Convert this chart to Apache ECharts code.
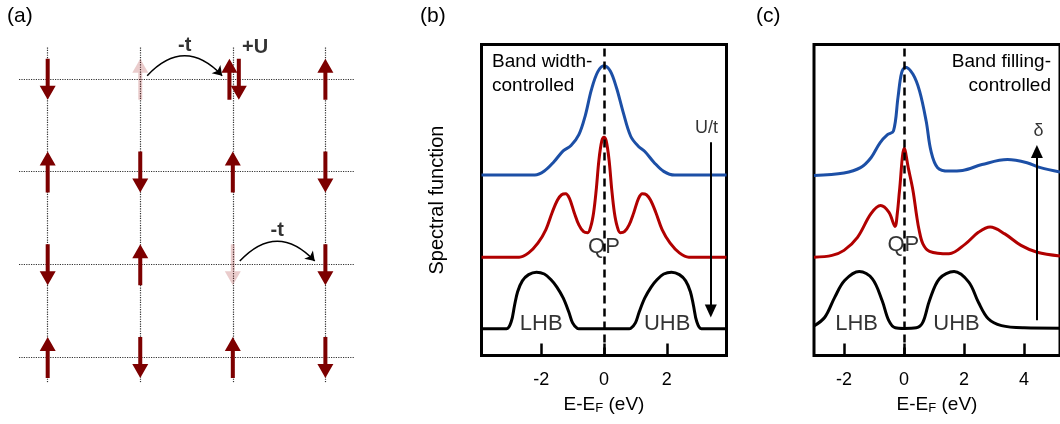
<!DOCTYPE html>
<html><head><meta charset="utf-8">
<script src="https://cdn.jsdelivr.net/npm/echarts@6/dist/echarts.min.js"></script>
<style>html,body{margin:0;padding:0;background:#fff}#c{width:1060px;height:424px}</style>
</head><body><div id="c"></div>
<script>
// ---------- Panel (a): Hubbard lattice spins (rows top->bottom, cols left->right) ----------
// 'u' up, 'd' down, '~' faded (hole left after hop), 'ud' doubly occupied
const spins = [
  ['d', 'u~', 'ud', 'u'],
  ['u', 'd',  'u',  'd'],
  ['d', 'u',  'd~', 'd'],
  ['u', 'd',  'u',  'd']
];
// hops: [fromCol, fromRow, toCol, toRow]
const hops = [[2, 1, 3, 1], [3, 3, 4, 3]];
const hopLabel = '-t';
const doubleLabel = '+U';

// ---------- Panel (b): band width-controlled, E-EF (eV) vs spectral function ----------
const bwBlue = [[-3.9,5.8],[-2.2,5.8],[-1.9,5.93],[-1.6,6.22],[-1.3,6.58],[-1.05,6.75],[-0.8,7.1],[-0.6,7.7],[-0.4,8.55],[-0.2,9.12],[0,9.32],[0.2,9.15],[0.4,8.6],[0.6,7.86],[0.85,7.05],[1.1,6.72],[1.3,6.56],[1.6,6.2],[1.9,5.92],[2.25,5.8],[3.9,5.8]];
const bwRed = [[-3.9,3.16],[-2.7,3.16],[-2.4,3.3],[-2.1,3.62],[-1.85,4.05],[-1.65,4.6],[-1.48,5.0],[-1.35,5.17],[-1.22,5.2],[-1.1,5.05],[-0.95,4.6],[-0.8,4.2],[-0.65,3.98],[-0.52,3.95],[-0.42,4.15],[-0.33,4.6],[-0.25,5.3],[-0.16,6.3],[-0.07,6.9],[0,7.02],[0.07,6.9],[0.16,6.3],[0.25,5.3],[0.33,4.6],[0.42,4.15],[0.52,3.95],[0.65,3.98],[0.8,4.2],[0.95,4.6],[1.1,5.05],[1.22,5.2],[1.35,5.17],[1.48,5.0],[1.65,4.6],[1.85,4.05],[2.1,3.62],[2.4,3.3],[2.7,3.16],[3.9,3.16]];
const bwBlack = [[-3.9,0.86],[-3.1,0.86],[-2.95,1.1],[-2.85,1.6],[-2.75,2.05],[-2.6,2.4],[-2.4,2.6],[-2.15,2.68],[-1.9,2.62],[-1.7,2.45],[-1.5,2.2],[-1.3,1.85],[-1.12,1.4],[-1.0,1.05],[-0.85,0.87],[-0.8,0.86],[0.8,0.86],[0.85,0.87],[1.0,1.05],[1.12,1.4],[1.3,1.85],[1.5,2.2],[1.7,2.45],[1.9,2.62],[2.15,2.68],[2.4,2.6],[2.6,2.4],[2.75,2.05],[2.85,1.6],[2.95,1.1],[3.1,0.86],[3.9,0.86]];
const ticksB = [-2, 0, 2];

// ---------- Panel (c): band filling-controlled ----------
const bfBlue = [[-3,5.79],[-2,5.87],[-1.45,6.04],[-1.1,6.36],[-0.8,6.84],[-0.55,7.1],[-0.35,7.22],[-0.2,8.3],[-0.08,9.09],[0.05,9.27],[0.3,9.04],[0.52,8.5],[0.74,7.53],[0.9,6.57],[1.12,6.04],[1.5,5.93],[1.95,5.95],[2.6,6.14],[3.45,6.3],[4.1,6.2],[4.55,6.04],[5.2,5.9]];
const bfRed = [[-3,3.16],[-2.4,3.22],[-2,3.38],[-1.55,3.8],[-1.1,4.56],[-0.78,4.82],[-0.5,4.6],[-0.3,4.15],[-0.22,4.6],[-0.15,5.3],[0.01,6.66],[0.15,6.0],[0.3,5.3],[0.42,4.5],[0.5,4.05],[0.63,3.59],[0.85,3.35],[1.5,3.27],[2.05,3.59],[2.48,3.96],[2.87,4.13],[3.36,3.91],[3.9,3.54],[4.44,3.32],[5.2,3.2]];
const bfBlack = [[-3,0.95],[-2.64,1.23],[-2.31,1.87],[-1.98,2.41],[-1.49,2.7],[-1.06,2.47],[-0.73,1.77],[-0.51,1.13],[-0.29,0.89],[0,0.87],[0.41,0.89],[0.63,1.07],[0.85,1.77],[1.18,2.47],[1.67,2.7],[2.16,2.36],[2.48,1.71],[2.81,1.18],[3.25,0.96],[4,0.89],[5.2,0.88]];
const ticksC = [-2, 0, 2, 4];

const FONT = '"Liberation Sans", Arial, Helvetica, sans-serif';
const BLUE = '#1c4fa6', RED = '#b10000', BLACK = '#000';
const SPIN = '#7d0000';

// derived items for panel (a)
const spinItems = [];
spins.forEach((row, r) => row.forEach((s, c) => {
  const faded = s.indexOf('~') >= 0 ? 1 : 0;
  const core = s.replace('~', '');
  if (core === 'ud') {
    spinItems.push([c + 1, r + 1, 1, 0, -1]);
    spinItems.push([c + 1, r + 1, -1, 0, 1]);
  } else {
    spinItems.push([c + 1, r + 1, core === 'u' ? 1 : -1, faded, 0]);
  }
}));
const latticeLines = [];
for (let r = 1; r <= spins.length; r++) latticeLines.push({coords: [[0.69, r], [4.32, r]]});
for (let c = 1; c <= spins[0].length; c++) latticeLines.push({coords: [[c, 0.66], [c, 4.28]]});
const hopLines = hops.map(h => ({coords: [[h[0] + 0.075, h[1] - 0.035], [h[2] - 0.115, h[3] - 0.035]]}));
const aLabels = hops.map(h => ({name: hopLabel, value: [(h[0] + h[2]) / 2 - 0.02, h[1] - 0.36]}));
spins.forEach((row, r) => row.forEach((s, c) => {
  if (s === 'ud') aLabels.push({name: doubleLabel, value: [c + 1 + 0.24, r + 1 - 0.335]});
}));

function renderSpin(params, api) {
  const p = api.coord([api.value(0), api.value(1)]);
  const dir = api.value(2), faded = api.value(3), slot = api.value(4);
  const cx = p[0] + (slot < 0 ? -3.4 : slot > 0 ? 6 : 0);
  const cy = p[1] + 0.4;
  const L = 20.5, hh = 14, hw = 8, sw = 2;
  const s = -dir;
  const tipY = cy + s * L, baseY = cy + s * (L - hh), tailY = cy - s * L;
  return {
    type: 'polygon',
    shape: {points: [[cx, tipY], [cx + hw, baseY], [cx + sw, baseY], [cx + sw, tailY], [cx - sw, tailY], [cx - sw, baseY], [cx - hw, baseY]]},
    style: {fill: faded ? 'rgba(150,0,0,0.2)' : SPIN}
  };
}

function curve(name, data, color, xi) {
  return {
    name: name, type: 'line', xAxisIndex: xi, yAxisIndex: xi, data: data,
    smooth: 0.35, symbol: 'none', lineStyle: {color: color, width: 3}, z: 3, silent: true
  };
}
function labels(xi, items, size, bold) {
  return {
    type: 'scatter', xAxisIndex: xi, yAxisIndex: xi, data: items, symbolSize: 1, clip: false,
    itemStyle: {color: 'rgba(0,0,0,0)'}, silent: true, z: 6,
    label: {show: true, position: 'inside', formatter: '{b}', fontSize: size, color: '#000',
      fontWeight: bold ? 'bold' : 'normal', fontFamily: FONT, textBorderWidth: 0}
  };
}
const dashLine = {
  silent: true, symbol: 'none', label: {show: false}, z: 5,
  lineStyle: {color: '#000', type: [8, 5], width: 2.5}, data: [{xAxis: 0}]
};
function arrowLine(x, y0, y1) {
  return {
    silent: true, label: {show: false}, z: 5, symbol: ['none', 'triangle'], symbolSize: [12, 13],
    lineStyle: {color: '#000', type: 'solid', width: 2},
    itemStyle: {color: '#000'},
    data: [[{coord: [x, y0]}, {coord: [x, y1]}]]
  };
}
function energyAxis(gi, min, max, ticks) {
  return {
    type: 'value', gridIndex: gi, min: min, max: max,
    splitLine: {show: false}, axisLine: {show: false},
    axisTick: {show: true, inside: true, length: 12, customValues: ticks, lineStyle: {color: '#000', width: 2.5}},
    axisLabel: {customValues: ticks, color: '#000', fontSize: 18, margin: 16, fontFamily: FONT},
    name: 'E-E{s|F} (eV)', nameLocation: 'middle', nameGap: 40,
    nameTextStyle: {color: '#000', fontSize: 19, fontFamily: FONT,
      rich: {s: {fontSize: 13, verticalAlign: 'bottom', lineHeight: 8, fontFamily: FONT, color: '#000'}}}
  };
}
const specAxis = (gi, named) => ({
  type: 'value', gridIndex: gi, min: 0, max: 10,
  axisLine: {show: false}, axisTick: {show: false}, axisLabel: {show: false}, splitLine: {show: false},
  name: named ? 'Spectral function' : '', nameLocation: 'middle', nameGap: 34, nameRotate: 90,
  nameTextStyle: {color: '#000', fontSize: 20, fontFamily: FONT}
});

const chart = echarts.init(document.getElementById('c'));
chart.setOption({
  animation: false,
  backgroundColor: '#fff',
  textStyle: {fontFamily: FONT},
  grid: [
    {left: 19, top: 47, width: 336, height: 335, show: false},
    {left: 481.5, top: 44.5, width: 245, height: 311, show: true, borderColor: '#000', borderWidth: 3, backgroundColor: 'transparent'},
    {left: 814, top: 44.5, width: 251, height: 311, show: true, borderColor: '#000', borderWidth: 3, backgroundColor: 'transparent'}
  ],
  xAxis: [
    {type: 'value', gridIndex: 0, min: 0.69, max: 4.32, show: false},
    energyAxis(1, -3.9, 3.9, ticksB),
    energyAxis(2, -3, 5.2, ticksC)
  ],
  yAxis: [
    {type: 'value', gridIndex: 0, min: 0.655, max: 4.27, inverse: true, show: false},
    specAxis(1, true),
    specAxis(2, false)
  ],
  graphic: [
    {type: 'text', x: 7, y: 16.5, style: {text: '(a)', fontSize: 21, fontFamily: FONT, fill: '#000', align: 'left', verticalAlign: 'middle'}},
    {type: 'text', x: 420, y: 16.5, style: {text: '(b)', fontSize: 21, fontFamily: FONT, fill: '#000', align: 'left', verticalAlign: 'middle'}},
    {type: 'text', x: 756, y: 16.5, style: {text: '(c)', fontSize: 21, fontFamily: FONT, fill: '#000', align: 'left', verticalAlign: 'middle'}},
    {type: 'text', x: 492, y: 49.5, z: 10, style: {text: 'Band width-\ncontrolled', fontSize: 19, lineHeight: 24.5, fontFamily: FONT, fill: '#000', align: 'left', verticalAlign: 'top'}},
    {type: 'text', x: 1051, y: 49.5, z: 10, style: {text: 'Band filling-\ncontrolled', fontSize: 19, lineHeight: 24.5, fontFamily: FONT, fill: '#000', align: 'right', verticalAlign: 'top'}}
  ],
  series: [
    // panel (a)
    {type: 'lines', coordinateSystem: 'cartesian2d', xAxisIndex: 0, yAxisIndex: 0, data: latticeLines, silent: true, z: 1,
      lineStyle: {color: '#333', width: 1.2, type: [1.2, 1.2], opacity: 1}},
    {type: 'custom', xAxisIndex: 0, yAxisIndex: 0, data: spinItems, renderItem: renderSpin, silent: true, z: 3},
    {type: 'lines', coordinateSystem: 'cartesian2d', xAxisIndex: 0, yAxisIndex: 0, data: hopLines, silent: true, z: 4,
      symbol: ['none', 'arrow'], symbolSize: 9,
      lineStyle: {color: '#000', width: 1.5, curveness: 0.53, opacity: 1}},
    labels(0, aLabels, 20, true),
    // panel (b)
    curve('bw-metal', bwBlue, BLUE, 1),
    curve('bw-correlated', bwRed, RED, 1),
    Object.assign(curve('bw-insulator', bwBlack, BLACK, 1), {markLine: dashLine}),
    {type: 'line', xAxisIndex: 1, yAxisIndex: 1, data: [], markLine: arrowLine(3.4, 6.86, 1.43)},
    labels(1, [{name: 'QP', value: [0, 3.48]}, {name: 'LHB', value: [-2.0, 1.02]}, {name: 'UHB', value: [2.01, 1.02]}], 22),
    labels(1, [{name: 'U/t', value: [3.26, 7.3]}], 18),
    // panel (c)
    curve('bf-doped', bfBlue, BLUE, 2),
    curve('bf-lightly', bfRed, RED, 2),
    Object.assign(curve('bf-insulator', bfBlack, BLACK, 2), {markLine: dashLine}),
    {type: 'line', xAxisIndex: 2, yAxisIndex: 2, data: [], markLine: arrowLine(4.43, 1.13, 6.56)},
    labels(2, [{name: 'QP', value: [-0.02, 3.54]}, {name: 'LHB', value: [-1.58, 1.02]}, {name: 'UHB', value: [1.75, 1.02]}], 22),
    labels(2, [{name: 'δ', value: [4.48, 7.23]}], 18)
  ]
});
</script>
</body></html>
